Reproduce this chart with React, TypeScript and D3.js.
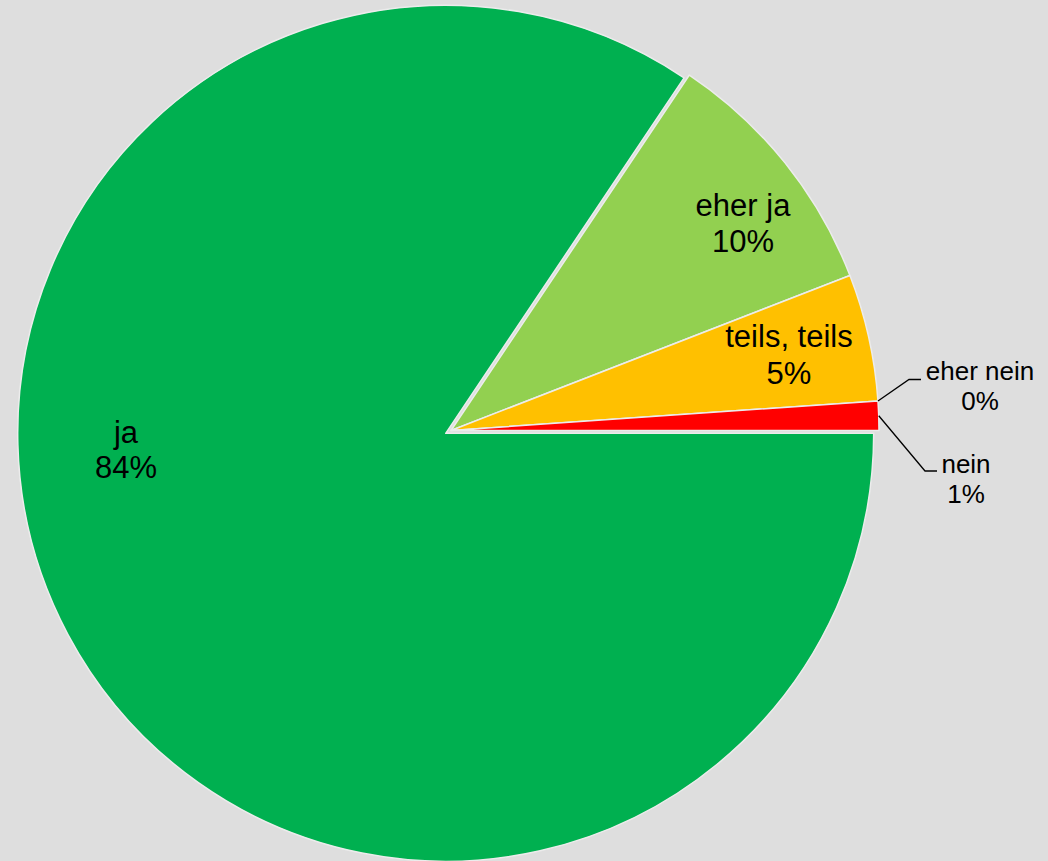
import React from "react";
import * as d3 from "d3";

const categories = ["ja", "eher ja", "teils, teils", "eher nein", "nein"];
const values = [84.4, 9.7, 4.8, 0.0, 1.1];
const colors = ["#00B050", "#92D050", "#FFC000", "#C00000", "#FF0000"];

// label layout (positions in px) - not data
const labelLayout = [
  { x: 126, y: 443, size: 31, gap: 35, leader: null },
  { x: 743, y: 216, size: 31, gap: 36, leader: null },
  { x: 789, y: 347, size: 31, gap: 37, leader: null },
  { x: 980, y: 380, size: 26, gap: 30, leader: { elbowX: 909, elbowY: 379.5, endX: 921, angleOffset: 0 } },
  { x: 966, y: 473, size: 26, gap: 30, leader: { elbowX: 925, elbowY: 471, endX: 937, angleOffset: 0.5 } },
];

const W = 1048;
const H = 861;
const cx = 451;
const cy = 430.5;
const R = 428;
const explodeFirst = 6;

export default function App() {
  const data = categories.map((c, i) => ({ name: c, value: values[i], color: colors[i] }));
  const pie = d3
    .pie<any>()
    .sort(null)
    .value((d) => d.value)
    .startAngle(Math.PI / 2)
    .endAngle(Math.PI / 2 + 2 * Math.PI);
  const arcs = pie(data);
  const arcGen = d3.arc<any>().innerRadius(0).outerRadius(R);
  const total = d3.sum(values);
  const fmt = d3.format(".0%");

  return (
    <svg
      width={W}
      height={H}
      style={{ position: "absolute", left: 0, top: 0, background: "#dedede" }}
    >
      <rect x={0} y={0} width={W} height={H} fill="#dedede" />
      <g>
        {arcs.map((a, i) => {
          if (a.data.value <= 0) return null;
          const mid = (a.startAngle + a.endAngle) / 2;
          const off = i === 0 ? explodeFirst : 0;
          const dx = off * Math.sin(mid);
          const dy = -off * Math.cos(mid);
          return (
            <path
              key={i}
              d={arcGen(a) as string}
              transform={`translate(${cx + dx},${cy + dy})`}
              fill={a.data.color}
              stroke="#ececec"
              strokeWidth={1.5}
              strokeLinejoin="round"
            />
          );
        })}
      </g>
      <g fontFamily="'Liberation Sans', Arial, sans-serif" fill="#000">
        {arcs.map((a, i) => {
          const L = labelLayout[i];
          const pct = fmt(a.data.value / total);
          let leader = null;
          if (L.leader) {
            const ang = a.startAngle + (a.endAngle - a.startAngle) * L.leader.angleOffset;
            const sx = cx + R * Math.sin(ang);
            const sy = cy - R * Math.cos(ang);
            leader = (
              <polyline
                points={`${sx},${sy} ${L.leader.elbowX},${L.leader.elbowY} ${L.leader.endX},${L.leader.elbowY}`}
                fill="none"
                stroke="#000"
                strokeWidth={1.3}
              />
            );
          }
          return (
            <g key={i}>
              {leader}
              <text x={L.x} y={L.y} fontSize={L.size} textAnchor="middle">
                {a.data.name}
              </text>
              <text x={L.x} y={L.y + L.gap} fontSize={L.size} textAnchor="middle">
                {pct}
              </text>
            </g>
          );
        })}
      </g>
    </svg>
  );
}
